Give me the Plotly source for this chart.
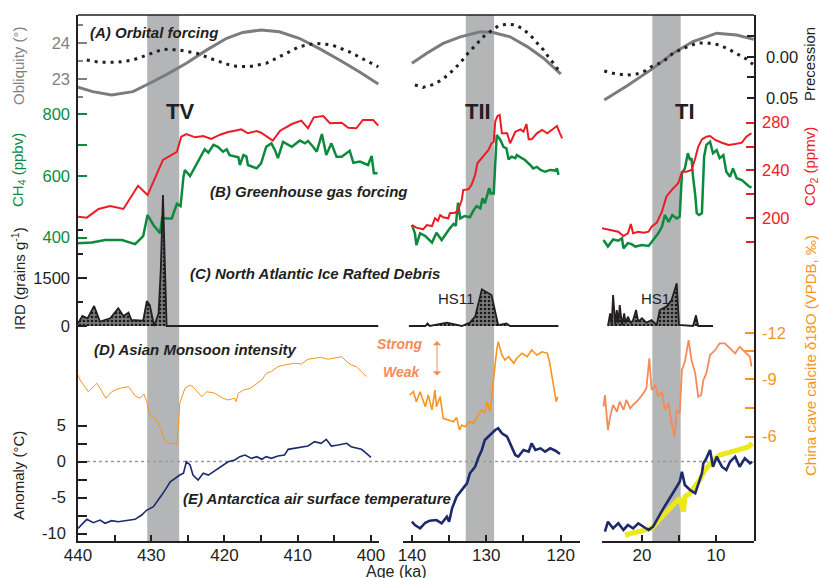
import plotly.graph_objects as go

# ---------------- DATA ----------------
# (A) Obliquity (deg) and precession, three age windows (ka)
obl_age_1 = [440, 438, 435.4, 432.5, 430.2, 428, 425.2, 422.4, 419.7, 417.5, 415, 412.5, 409.8, 407.1, 404.3, 401.6, 399]
obl_1 = [22.78, 22.66, 22.57, 22.66, 22.89, 23.12, 23.44, 23.81, 24.13, 24.29, 24.36, 24.31, 24.13, 23.85, 23.53, 23.21, 22.87]
obl_age_2 = [140, 138, 135.8, 133.5, 130.8, 129.1, 126.8, 124.5, 122.3, 120]
obl_2 = [23.44, 23.72, 23.99, 24.17, 24.31, 24.29, 24.17, 23.9, 23.58, 23.15]
obl_age_3 = [25.1, 22, 18.5, 15.8, 13.1, 9.9, 7.2, 4.9]
obl_3 = [22.43, 22.82, 23.3, 23.72, 24.04, 24.27, 24.22, 24.1]

prec_age_1 = [438.8, 437, 434.7, 432.5, 430.6, 428.4, 426.1, 423.8, 421.6, 418.9, 416.6, 414.3, 412, 409.8, 407.5, 405.3, 403, 400.7, 399]
prec_1 = [0.0037, 0.0065, 0.0065, 0.0037, -0.0024, -0.0094, -0.0085, -0.0045, 0.0028, 0.011, 0.0118, 0.0077, -0.0024, -0.0126, -0.0167, -0.0146, -0.0065, 0.0037, 0.012]
prec_age_2 = [139.6, 138.5, 137.3, 136.2, 135.3, 134.2, 133.3, 132.4, 131.4, 130.5, 129.5, 128.4, 127.2, 126.1, 125.2, 124.1, 123.2, 122.3, 121.6, 120.7, 120]
prec_2 = [0.0341, 0.037, 0.034, 0.029, 0.023, 0.0138, 0.0049, -0.0053, -0.0146, -0.024, -0.0309, -0.0378, -0.0402, -0.039, -0.035, -0.0268, -0.0174, -0.0085, 0.0004, 0.0106, 0.0207]
prec_age_3 = [25.1, 23.9, 22.1, 20.7, 19.6, 18.7, 17.1, 15.8, 14.4, 12.6, 11.3, 9.5, 8.1, 7.0, 5.9, 5.0]
prec_3 = [0.0171, 0.0199, 0.0223, 0.0207, 0.0171, 0.0118, 0.0057, -0.0045, -0.0106, -0.0167, -0.0174, -0.0146, -0.0085, -0.0033, 0.0024, 0.0089]

# (B) CO2 (ppmv) and CH4 (ppbv)
co2_age_1 = [440, 438.8, 437.2, 435.6, 433.8, 431.8, 430.5, 428.4, 426.5, 425.9, 425.2, 424, 422.9, 421.8, 420.6, 419.5, 418.6, 417.7, 416.8, 415.6, 415, 413.4, 412.4, 410.8, 409.5, 408.6, 407.8, 406.5, 405.6, 404, 403.1, 402, 401.1, 399.7, 399]
co2_1 = [201, 200.2, 207.5, 210, 207.5, 227, 219.2, 248.7, 255.6, 268.2, 270.5, 267.7, 268.8, 266.3, 269.9, 272.2, 273.3, 274.4, 271.1, 273, 271.6, 264.9, 273.3, 278.9, 281.7, 275.3, 284.5, 285.6, 279.5, 280, 275.8, 275.3, 282.3, 282.3, 277.5]
co2_age_2 = [140, 139.4, 138.5, 138, 137.3, 136.9, 136.5, 136.2, 135.8, 135.1, 134.9, 134.2, 133.8, 133.3, 133.1, 132.4, 132, 131.5, 131.2, 130.6, 129.7, 129.3, 129, 128.8, 128.5, 128.2, 127.9, 127.2, 126.8, 126.1, 125.4, 125, 124.6, 124.3, 123.9, 123.2, 122.5, 121.8, 120.5, 120.1, 119.8]
co2_2 = [194, 191.8, 190.4, 194, 193.2, 199.7, 197.6, 202.4, 200.5, 199.7, 203.9, 204.4, 206.6, 215, 223.4, 224, 227.6, 236, 245.9, 250.1, 257.1, 262.7, 264, 280.8, 285.6, 286.5, 271.1, 271.1, 262.7, 272.4, 274.4, 272.4, 278.9, 266, 266, 271.1, 273.9, 271.1, 277.2, 271.1, 266.9]
co2_age_3 = [25.4, 23.2, 22.5, 21.9, 21.5, 21.2, 20.5, 19.8, 19.1, 18.7, 18, 17.3, 16.7, 16, 15.1, 14.6, 14, 13.3, 12.8, 12.4, 11.9, 11.3, 10.8, 10.1, 9.2, 8.3, 7.4, 6.5, 5.9, 5.2]
co2_3 = [191.3, 188.4, 184.8, 187.1, 194.9, 187.1, 188.4, 187.6, 188.4, 192.6, 196, 205.2, 217.8, 223.4, 229.1, 238.8, 238.8, 240.3, 250.1, 259.8, 266, 268.2, 268.8, 265.5, 263.2, 261.3, 262.1, 263.2, 268.2, 271.1]

ch4_age_1 = [440, 438.1, 436.3, 434, 432.2, 431.1, 430.5, 429.7, 428.8, 428.5, 427.9, 427.2, 426.5, 426, 425.6, 425.4, 424.7, 424, 423.4, 422.7, 422.2, 421.5, 420.9, 420.2, 419.7, 419.3, 418.1, 417.9, 417.4, 417, 416.8, 415.6, 415, 414.3, 413.6, 413.1, 412.7, 412, 410.8, 409.7, 409, 408.6, 407.9, 407.4, 406.7, 406.1, 405.4, 404.7, 404, 402.9, 402.4, 401.5, 400.4, 399.9, 399.6, 399.1]
ch4_1 = [382, 384, 392, 392, 379, 405, 473, 441, 414, 464, 462, 462, 509, 502, 597, 619, 599, 629, 657, 686, 675, 700, 694, 678, 686, 667, 660, 635, 667, 662, 635, 624, 640, 694, 705, 683, 657, 710, 694, 714, 705, 713, 694, 678, 735, 667, 705, 662, 662, 681, 642, 646, 635, 664, 608, 608]
ch4_age_2 = [140, 139.6, 139.4, 138.9, 138.2, 137.3, 136.7, 136, 134.9, 134.4, 134.1, 133.8, 133.5, 132.9, 132.2, 131.7, 131.3, 130.8, 130.5, 130.2, 129.6, 129.4, 129, 128.8, 128.6, 128.1, 127.7, 127.3, 127, 126.6, 126.1, 125.9, 125.4, 124.8, 124.1, 123.7, 123.2, 122.7, 122.1, 121.4, 120.7, 120.5, 120.3]
ch4_2 = [441, 414, 376, 414, 405, 384, 416, 392, 430, 444, 438, 513, 462, 470, 466, 489, 502, 495, 527, 511, 560, 543, 543, 667, 732, 716, 694, 689, 653, 662, 657, 667, 660, 651, 635, 624, 629, 619, 613, 619, 617, 624, 603]
ch4_age_3 = [25.2, 24.6, 23.9, 23.2, 22.7, 22.5, 21.9, 21.4, 20.9, 20, 19.1, 18.5, 17.8, 17.3, 16.9, 16.4, 15.9, 15.3, 14.9, 14.6, 14.2, 13.8, 13.5, 13.3, 13.1, 12.8, 12.6, 12.3, 11.9, 11.6, 11.3, 10.8, 10.4, 9.9, 9.5, 9, 8.6, 8.1, 7.7, 7.2, 6.5, 5.6, 5.2]
ch4_3 = [392, 371, 394, 390, 398, 365, 382, 379, 371, 376, 373, 392, 414, 435, 473, 451, 473, 462, 468, 608, 624, 673, 651, 657, 597, 538, 479, 473, 479, 662, 700, 710, 673, 683, 657, 667, 613, 597, 624, 592, 586, 567, 562]

# (C) IRD (grains/g)
ird_age_1 = [440, 439.4, 438.7, 437.8, 437, 435.6, 434.5, 433.8, 433.1, 432.7, 431.1, 430.6, 430.2, 429.6, 429, 428.7, 428.4, 428.2, 427.9, 399]
ird_1 = [84, 312, 240, 625, 135, 240, 552, 312, 417, 187, 167, 781, 656, 0, 396, 1750, 4094, 2166, 0, 0]
ird_age_2 = [140.4, 138.2, 137.9, 137.6, 135.3, 133.3, 132.2, 131.5, 130.6, 129.3, 128.4, 127.3, 126.8, 120.3]
ird_2 = [0, 0, 83, 0, 104, 0, 104, 292, 1146, 969, 31, 83, 0, 0]
ird_age_3 = [24.6, 24.3, 24.1, 23.9, 23.6, 23.4, 23.2, 23, 22.7, 22.4, 22.2, 21.9, 21.5, 21.2, 20.8, 20.5, 20, 19.4, 18.7, 18, 17.6, 16.7, 16, 15.3, 15, 13.5, 13.1, 12.7, 12.4, 10.4]
ird_3 = [0, 396, 31, 969, 31, 500, 83, 656, 31, 396, 83, 292, 83, 187, 500, 135, 240, 104, 187, 31, 500, 604, 812, 1333, 31, 0, 0, 333, 0, 0]

# (D) China cave calcite d18O (permil)
d18o_age_1 = [440, 439.7, 438.6, 437.4, 436.2, 435.4, 434.7, 434, 433.1, 432.2, 431.5, 431, 430.6, 430.2, 429.3, 428.6, 428.1, 427.4, 426.8, 426.5, 426.3, 426.1, 425.4, 424.7, 424.3, 423.6, 423.1, 422.4, 421.3, 420.2, 419.5, 418.6, 418.4, 418.1, 417.4, 416.5, 415.6, 414.9, 414.3, 413.6, 412.7, 411.8, 410.4, 409.5, 408.6, 407.7, 406.8, 405.9, 404.9, 404, 403.3, 402.7, 402, 401.3, 400.6]
d18o_1 = [-9.22, -8.96, -8.35, -8.79, -8.01, -8.35, -8.48, -8.56, -8.61, -8.13, -8.01, -8.23, -7.83, -7.13, -6.87, -6.35, -5.74, -5.65, -5.65, -5.57, -6.52, -7.75, -8.53, -8.7, -8.61, -8.27, -8.09, -8.35, -8.27, -8.01, -7.92, -8.01, -7.83, -8.27, -8.44, -8.53, -8.79, -8.96, -9.31, -9.4, -9.66, -9.75, -9.84, -9.8, -10.05, -10.1, -10.15, -10.05, -10.1, -10.18, -9.92, -9.75, -9.66, -9.4, -9.14]
d18o_age_2 = [140.3, 139.8, 139.4, 138.9, 138.2, 137.8, 137.3, 136.9, 136.7, 136.2, 135.8, 135.1, 134.4, 134, 133.6, 133.3, 132.9, 132.2, 131.7, 131.1, 130.6, 130.2, 129.9, 129.5, 129.1, 128.9, 128.6, 128.4, 127.9, 127.5, 127, 126.3, 125.9, 125.2, 124.5, 123.9, 123.2, 122.5, 121.8, 121.5, 121.2, 120.9, 120.6, 120.4]
d18o_2 = [-8.18, -8.35, -7.83, -8.35, -7.57, -8.18, -7.4, -8.44, -7.57, -8.09, -6.96, -6.87, -6.78, -7.01, -6.35, -6.61, -6.52, -6.78, -6.7, -7.13, -7.4, -7.22, -7.83, -7.31, -8.7, -9.66, -10.53, -10.97, -10.27, -10.01, -10.18, -9.84, -10.1, -10.36, -10.18, -10.53, -10.27, -10.44, -10.36, -9.92, -9.31, -8.53, -7.83, -8.09]
d18o_age_3 = [25.2, 25, 24.6, 24.3, 23.9, 23.4, 23, 22.5, 22.1, 21.6, 21.2, 20.5, 19.8, 19.4, 19, 18.7, 18.2, 17.8, 17.3, 16.9, 16.4, 16, 15.6, 15.3, 14.9, 14.6, 14.2, 13.7, 13.3, 12.8, 12.4, 12, 11.7, 11.3, 10.8, 10.1, 9.5, 8.8, 8.1, 7.4, 6.8, 6.1, 5.4, 5.2]
d18o_3 = [-7.57, -8.18, -6.35, -7.05, -7.66, -7.31, -7.83, -7.4, -7.92, -7.48, -7.66, -7.92, -8.27, -8.53, -10.1, -8.44, -8.7, -8.09, -8.35, -7.4, -7.75, -6.7, -6.0, -7.4, -7.22, -9.49, -9.92, -11.05, -10.01, -9.31, -8.09, -8.18, -8.96, -9.31, -10.27, -10.53, -10.88, -10.88, -10.62, -10.36, -10.7, -10.44, -10.18, -9.66]

# (E) Antarctic temperature anomaly (deg C)
t_age_1 = [440, 438.8, 437.9, 437, 436.3, 435.4, 434.5, 432.2, 431.3, 430.6, 429.7, 429, 428.4, 427.4, 426.8, 426.1, 425.6, 425.2, 424.7, 424.3, 423.6, 422.9, 422.2, 421.5, 420.4, 419.5, 418.6, 417.9, 417.2, 416.3, 415.6, 414.9, 414.3, 413.6, 412.7, 411.8, 411.3, 410.4, 409.5, 408.6, 407.7, 406.8, 406.1, 405.4, 404.5, 403.3, 402.7, 402, 401.3, 400.9, 400.4, 400]
t_1 = [-9.28, -8.03, -8.5, -8.13, -8.58, -8.22, -8.36, -8.03, -7.43, -6.74, -6.28, -5.35, -4.42, -2.81, -2.33, -1.88, -1.64, -0.03, -0.49, -1.88, -2.57, -1.64, -1.88, -1.42, -0.72, -0.03, 0.21, 0.67, 0.9, 0.44, 0.67, 0.31, 0.67, 0.44, 0.76, 0.9, 1.69, 1.83, 1.97, 2.15, 2.75, 2.53, 3.08, 2.15, 2.29, 2.53, 2.06, 1.83, 1.69, 1.36, 0.9, 0.58]
t_age_2 = [140, 139.6, 138.9, 138.2, 137.6, 136.7, 136, 135.3, 135, 134.6, 134, 133.3, 132.6, 132.2, 131.5, 131.1, 130.6, 130.2, 129.5, 128.8, 128.4, 127.9, 127.2, 126.8, 126.1, 125.7, 125, 124.3, 123.9, 123.4, 122.7, 122.1, 121.4, 120.7, 120.1]
t_2 = [-8.36, -8.82, -9.28, -8.5, -8.22, -8.13, -8.58, -7.67, -8.36, -6.5, -4.89, -3.96, -3.03, -1.64, -0.72, 0.44, 1.6, 2.99, 3.68, 4.38, 4.61, 3.92, 3.44, 2.53, 0.9, 0.67, 1.6, 1.36, 2.53, 1.6, 1.83, 1.36, 1.83, 1.5, 1.04]
t_age_3 = [25, 24.6, 23.9, 23.2, 22.5, 21.9, 21.2, 20.5, 19.8, 19.1, 18.5, 17.8, 17.1, 16.4, 15.8, 15.3, 14.9, 14.6, 14.2, 13.5, 12.8, 12.4, 11.9, 11.7, 11.3, 10.8, 10.4, 9.9, 9.2, 8.6, 8.1, 7.4, 6.8, 6.1, 5.4, 5.1]
t_3 = [-9.75, -8.36, -9.28, -8.58, -9.51, -8.82, -9.28, -8.58, -9.06, -9.51, -9.06, -7.67, -6.5, -5.35, -4.42, -3.5, -2.81, -1.42, -3.26, -3.96, -4.42, -3.26, -1.64, -0.25, 0.44, 1.6, -0.72, 0.67, -0.72, -1.18, -0.03, 0.67, -0.72, 0.44, -0.25, -0.03]
ty_age = [22.3, 20.5, 18.7, 17.3, 16, 14.9, 14.4, 14.2, 13.5, 12.8, 12.2, 11.5, 10.8, 10.1, 9.5, 8.6, 7.4, 6.3, 5.6, 5.1]
ty = [-10.21, -9.75, -9.28, -7.67, -6.28, -5.11, -6.97, -4.89, -4.42, -3.5, -2.57, -1.18, -0.25, 0.44, 0.9, 1.14, 1.36, 1.83, 2.06, 2.53]

# Terminations (shaded windows, ka)
term_axes = ["x", "x2", "x3"]
term_start = [430.55, 132.76, 18.6]
term_end = [426.18, 128.95, 14.77]
term_names = ["TV", "TII", "TI"]

# ---------------- LAYOUT HELPERS ----------------
W, H = 819, 578
L, T = 78, 15
PW, PH = 754 - 78, 541 - 15
R, B = W - L - PW, H - T - PH


def px(xp):
    return (xp - L) / PW


def py(yp):
    return (T + PH - yp) / PH


FONT = "Liberation Sans, Arial, Helvetica, sans-serif"
DARK = "#231f20"
GRAY = "#808285"
GREEN = "#0e8a3e"
RED = "#ed1c24"
ORANGE = "#f7941d"
SALMON = "#f58a5a"
NAVY = "#1d2a6c"
YELLOW = "#ece81a"

fig = go.Figure()


def line(x, y, xa, ya, color, width, dash=None, **kw):
    fig.add_trace(go.Scatter(x=x, y=y, xaxis=xa, yaxis=ya, mode="lines",
                             line=dict(color=color, width=width, dash=dash),
                             showlegend=False, hoverinfo="skip", **kw))


segs = ["x", "x2", "x3"]
# Orbital
for xs, ys, xa in zip([obl_age_1, obl_age_2, obl_age_3], [obl_1, obl_2, obl_3], segs):
    line(xs, ys, xa, "y2", "#7b7c7e", 3)
for xs, ys, xa in zip([prec_age_1, prec_age_2, prec_age_3], [prec_1, prec_2, prec_3], segs):
    line(xs, ys, xa, "y3", DARK, 3, dash="3px,5px")
# Greenhouse gases
for xs, ys, xa in zip([co2_age_1, co2_age_2, co2_age_3], [co2_1, co2_2, co2_3], segs):
    line(xs, ys, xa, "y5", RED, 2)
for xs, ys, xa in zip([ch4_age_1, ch4_age_2, ch4_age_3], [ch4_1, ch4_2, ch4_3], segs):
    line(xs, ys, xa, "y4", GREEN, 2.5)
# IRD
for xs, ys, xa in zip([ird_age_1, ird_age_2, ird_age_3], [ird_1, ird_2, ird_3], segs):
    line(xs, ys, xa, "y6", DARK, 1.8, fill="tozeroy",
         fillpattern=dict(shape=".", bgcolor="#7a7a7a", fgcolor="#1a1a1a", size=4, solidity=0.35))
# Monsoon
line(d18o_age_1, d18o_1, "x", "y7", ORANGE, 1)
line(d18o_age_2, d18o_2, "x2", "y7", ORANGE, 1.6)
line(d18o_age_3, d18o_3, "x3", "y7", SALMON, 1.8)
# Temperature
line(ty_age, ty, "x3", "y", YELLOW, 5)
line(t_age_1, t_1, "x", "y", NAVY, 1.6)
line(t_age_2, t_2, "x2", "y", NAVY, 2.6)
line(t_age_3, t_3, "x3", "y", NAVY, 2.6)

shapes = []
for xa, a0, a1 in zip(term_axes, term_start, term_end):
    shapes.append(dict(type="rect", xref=xa, yref="paper", x0=a0, x1=a1, y0=0, y1=1,
                       fillcolor="#b3b5b7", line=dict(width=0), layer="below"))
shapes.append(dict(type="line", xref="paper", yref="paper", x0=0, x1=1, y0=1, y1=1,
                   line=dict(color=DARK, width=1.5)))
shapes.append(dict(type="line", xref="paper", yref="y", x0=px(87), x1=1, y0=0, y1=0,
                   line=dict(color="#9a9a9a", width=1.5, dash="dot"), layer="below"))


def xax(domain, rng, vals, texts):
    return dict(domain=domain, range=rng, tickmode="array", tickvals=vals, ticktext=texts,
                ticks="inside", ticklen=6, tickwidth=1.5, tickcolor=DARK,
                showline=True, linecolor=DARK, linewidth=1.5, anchor="y",
                showgrid=False, zeroline=False, automargin=False,
                tickfont=dict(family=FONT, size=17, color=DARK), ticklabelstandoff=-2)


def yax(rng, vals, texts, color, side="left", anchor="x", showline=False, ticklen=9, minor=None):
    d = dict(domain=[0, 1], range=rng, tickmode="array", tickvals=vals, ticktext=texts,
             ticks="inside", ticklen=ticklen, tickwidth=1.5, tickcolor=color,
             side=side, anchor=anchor, showline=showline, linecolor=DARK, linewidth=1.5,
             showgrid=False, zeroline=False, automargin=False,
             tickfont=dict(family=FONT, size=16.5, color=color), ticklabelstandoff=7)
    if minor:
        d["minor"] = dict(tickmode="array", tickvals=minor, ticks="inside", ticklen=5,
                          tickwidth=1.5, tickcolor=color, showgrid=False)
    return d


layout = dict(
    width=W, height=H, margin=dict(l=L, r=R, t=T, b=B, pad=0),
    template="none", paper_bgcolor="white", plot_bgcolor="rgba(0,0,0,0)",
    font=dict(family=FONT, color=DARK), showlegend=False,
    xaxis=xax([0, px(379)], [440, 398.9], [440, 435, 430, 425, 420, 415, 410, 405, 400],
              ["440", "", "430", "", "420", "", "410", "", "400"]),
    xaxis2=xax([px(403), px(580)], [141.2, 117.4], [140, 135, 130, 125, 120],
               ["140", "", "130", "", "120"]),
    xaxis3=xax([px(602), 1], [25.4, 4.86], [20, 15, 10], ["20", "", "10"]),
    yaxis=yax([-11.04, 62.01], [-10, -7.5, -5, -2.5, 0, 2.5, 5],
              ["-10", "", "-5", "", "0", "", "5"], DARK, showline=True),
    yaxis2=yax([10.281, 24.771], [23, 24], ["23", "24"], GRAY, minor=[22.5, 23.5, 24.5]),
    yaxis3=yax([0.5902, -0.0512], [-0.025, 0, 0.025, 0.05], ["", "0.00", "", "0.05"], DARK,
               side="right", anchor="x3", showline=True, ticklen=7),
    yaxis4=yax([-581.9, 1120.4], [400, 600, 700, 800], ["400", "600", "", "800"], GREEN),
    yaxis5=yax([-71.5, 370.5], [180, 200, 220, 240, 260, 280], ["", "200", "", "240", "", "280"], RED,
               side="right", anchor="x3", ticklen=8),
    yaxis6=yax([-6718.75, 9718.75], [0, 1500], ["0", "1500"], DARK, minor=[750, 2250, 3000]),
    yaxis7=yax([-0.547, -28.044], [-11.42, -10.5, -9, -7.5, -6], ["-12", "", "-9", "", "-6"], ORANGE,
               side="right", anchor="x3", ticklen=9),
    shapes=shapes,
)
fig.update_layout(**layout)

ann = []


def text(t, xp, yp, size=15, color=DARK, angle=0, xanchor="center", **kw):
    ann.append(dict(text=t, x=px(xp), y=py(yp), xref="paper", yref="paper", showarrow=False,
                    textangle=angle, xanchor=xanchor, yanchor="middle",
                    font=dict(family=FONT, size=size, color=color), **kw))


# axis titles
text("Obliquity (°)", 18, 66, 15, GRAY, -90)
text("CH<sub>4</sub> (ppbv)", 18, 170, 15, GREEN, -90)
text("IRD (grains g<sup>-1</sup>)", 18, 279, 15, DARK, -90)
text("Anomaly (°C)", 18, 476, 15, DARK, -90)
text("Precession", 810, 64, 15, DARK, -90)
text("CO<sub>2</sub> (ppmv)", 810, 167, 15, RED, -90)
text("China cave calcite δ18O (VPDB, ‰)", 810, 356, 15, ORANGE, -90)
text("Age (ka)", 396, 571, 16, DARK)

# panel labels
text("<b><i>(A) Orbital forcing</i></b>", 88, 32, 15, DARK, xanchor="left")
text("<b><i>(B) Greenhouse gas forcing</i></b>", 208, 191, 15, DARK, xanchor="left")
text("<b><i>(C) North Atlantic Ice Rafted Debris</i></b>", 188, 273, 15, DARK, xanchor="left")
text("<b><i>(D) Asian Monsoon intensity</i></b>", 92, 349, 15, DARK, xanchor="left")
text("<b><i>(E) Antarctica air surface temperature</i></b>", 181, 498, 15, DARK, xanchor="left")
for name, xc in zip(term_names, [180, 478, 685]):
    text("<b>" + name + "</b>", xc, 111, 22, DARK)
text("HS11", 456, 298, 15, DARK)
text("HS1", 655, 298, 15, DARK)
text("<b><i>Strong</i></b>", 425, 344, 14, SALMON, xanchor="right")
text("<b><i>Weak</i></b>", 423, 372, 14, SALMON, xanchor="right")
ann.append(dict(x=px(437), y=py(341), xref="paper", yref="paper", ax=0, ay=36,
                showarrow=True, arrowhead=1, arrowside="end+start", arrowsize=1.4,
                arrowwidth=1, arrowcolor=SALMON, text=""))

fig.update_layout(annotations=ann)
fig.write_html("out.html", config={"displayModeBar": False},
               post_script="document.body.style.margin='0';document.body.style.overflow='hidden';")
